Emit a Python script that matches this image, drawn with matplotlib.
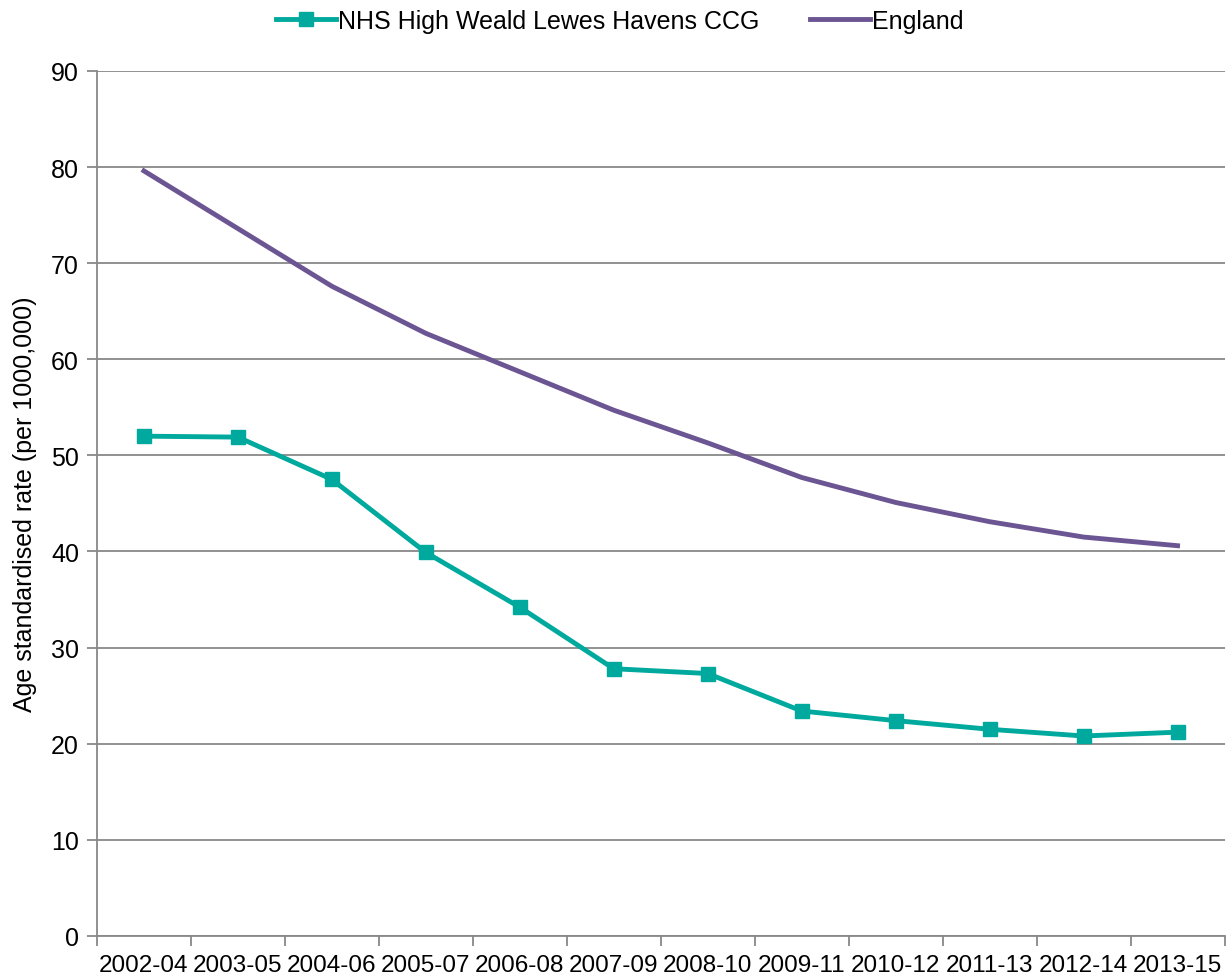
import numpy as np
from matplotlib import pyplot as plt

plt.rcParams['font.family'] = ['Liberation Sans', 'DejaVu Sans']

# data
periods = ['2002-04', '2003-05', '2004-06', '2005-07', '2006-08', '2007-09',
           '2008-10', '2009-11', '2010-12', '2011-13', '2012-14', '2013-15']
ccg = [52.0, 51.9, 47.5, 39.9, 34.2, 27.8, 27.3, 23.4, 22.4, 21.5, 20.8, 21.2]
england = [79.6, 73.6, 67.6, 62.7, 58.7, 54.7, 51.3, 47.7, 45.1, 43.1, 41.5, 40.6]

teal = '#00A99D'
purple = '#6B5592'
grey = '#888888'

fig = plt.figure(figsize=(12.27, 9.79), dpi=100)
ax = fig.add_axes([0.079, 0.043, 0.919, 0.8835])

x = np.arange(len(periods))
ax.plot(x, ccg, color=teal, lw=3.5, marker='s', ms=10,
        label='NHS High Weald Lewes Havens CCG')
ax.plot(x, england, color=purple, lw=3.5, label='England')

ax.set_xlim(-0.5, len(periods) - 0.5)
ax.set_ylim(0, 90)
ax.set_yticks(np.arange(0, 91, 10))
ax.yaxis.grid(True, color=grey, lw=1.3)
ax.set_axisbelow(True)

# labels centred, tick marks between categories
ax.set_xticks(x)
ax.set_xticklabels(periods)
ax.set_xticks(np.arange(-0.5, len(periods)), minor=True)
ax.tick_params(axis='x', which='major', length=0, labelsize=17.5, pad=13)
ax.tick_params(axis='x', which='minor', length=7, width=1.3, color=grey)
ax.tick_params(axis='y', length=7, width=1.3, color=grey, labelsize=18, pad=6)

for s in ['top', 'right']:
    ax.spines[s].set_visible(False)
for s in ['left', 'bottom']:
    ax.spines[s].set_color(grey)
    ax.spines[s].set_linewidth(1.3)

ax.set_ylabel('Age standardised rate (per 1000,000)', fontsize=18, labelpad=10)

ax.legend(loc='upper center', bbox_to_anchor=(0.505, 0.995), bbox_transform=fig.transFigure,
          ncol=2, frameon=False, fontsize=18, handlelength=2.4, handletextpad=0.1,
          columnspacing=2.0, borderaxespad=0, borderpad=0.2)

plt.savefig('out.png', dpi=100)
